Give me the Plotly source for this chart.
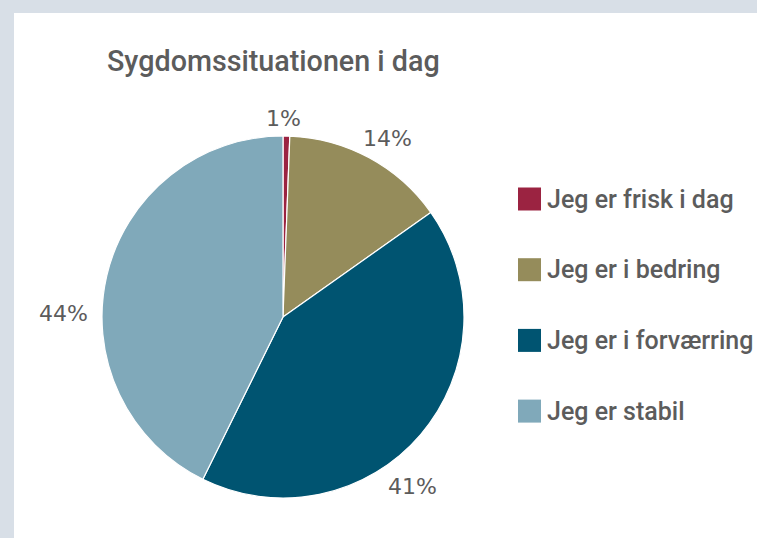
import plotly.graph_objects as go

# data
labels = ["Jeg er frisk i dag", "Jeg er i bedring", "Jeg er i forværring", "Jeg er stabil"]
values = [0.6, 14.6, 42.1, 42.7]
pct_text = ["1%", "14%", "41%", "44%"]
colors = ["#9b2341", "#958c5b", "#005471", "#80a9ba"]

# where the percentage labels sit (pixels, like Excel's best fit)
label_pos = [(283, 118), (387, 138), (412, 486), (63, 313)]

W, H = 757, 538
grey_txt = "#5c5c5c"
font_fam = "Roboto, 'Noto Sans', sans-serif"

fig = go.Figure()

fig.add_trace(go.Pie(
    labels=labels,
    values=values,
    textinfo="none",
    sort=False,
    direction="clockwise",
    rotation=0,
    marker=dict(colors=colors, line=dict(color="white", width=1.2)),
    domain=dict(x=[(283 - 181) / W, (283 + 181) / W],
                y=[(H - 317 - 181) / H, (H - 317 + 181) / H]),
    showlegend=False,
    hoverinfo="label+percent",
))

# background frame: grey border with white panel
shapes = [dict(type="rect", xref="paper", yref="paper",
               x0=14 / W, x1=1, y0=0, y1=1 - 13 / H,
               fillcolor="white", line=dict(width=0), layer="below")]
annotations = []

# percentage labels
for txt, (px_, py_) in zip(pct_text, label_pos):
    annotations.append(dict(text=txt, xref="paper", yref="paper",
                            x=px_ / W, y=1 - py_ / H, xanchor="center", yanchor="middle",
                            showarrow=False,
                            font=dict(size=22, color=grey_txt, family="DejaVu Sans")))

# manual legend (square + label), spaced like the original
for i, (lab, col) in enumerate(zip(labels, colors)):
    cy = 199 + i * 70.7
    shapes.append(dict(type="rect", xref="paper", yref="paper",
                       x0=518 / W, x1=541 / W,
                       y0=1 - (cy + 11.5) / H, y1=1 - (cy - 11.5) / H,
                       fillcolor=col, line=dict(width=0)))
    annotations.append(dict(text=lab, xref="paper", yref="paper",
                            x=545 / W, y=1 - cy / H, xanchor="left", yanchor="middle",
                            showarrow=False,
                            font=dict(size=25, color=grey_txt, family=font_fam, weight=500)))

fig.update_layout(
    width=W, height=H,
    margin=dict(l=0, r=0, t=0, b=0),
    paper_bgcolor="#d8dfe7",
    title=dict(text="Sygdomssituationen i dag", x=107 / W, xanchor="left",
               y=1 - 61 / H, yanchor="middle",
               font=dict(size=28.7, color=grey_txt, family=font_fam, weight=500)),
    shapes=shapes,
    annotations=annotations,
)

fig.write_html("out.html", config={"displayModeBar": False},
               post_script="document.body.style.margin='0';")
